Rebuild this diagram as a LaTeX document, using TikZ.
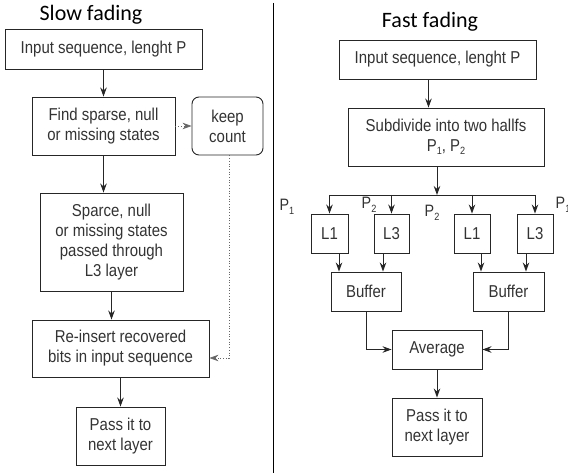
\documentclass[tikz,border=0pt]{standalone}
\usepackage{fontspec}
\setmainfont{Liberation Sans}[FakeStretch=0.87]
\newfontfamily\titlefont{Carlito}
\usetikzlibrary{arrows.meta,calc}
\newcommand{\psub}[1]{\raisebox{-3.5pt}{\fontsize{10.5}{10}\selectfont #1}}
\begin{document}
\begin{tikzpicture}[x=1pt,y=-1pt,
  box/.style={draw=black!85,line width=0.9pt,rectangle,inner sep=0pt,align=center,
    text=black!80,font=\fontsize{17.2}{20}\selectfont},
  arr/.style={draw=black!85,line width=0.9pt,-{Stealth[length=9pt,width=6.5pt]}},
  dotarr/.style={draw=black!60,line width=0.7pt,dotted,-{Stealth[length=9pt,width=6.5pt]}},
  ttl/.style={font=\titlefont\fontsize{22}{24}\selectfont,text=black},
  plab/.style={font=\fontsize{16.5}{18}\selectfont,text=black!80,inner sep=0pt}]
\useasboundingbox (0,0) rectangle (568,473);
% divider
\draw[line width=0.9pt] (273,3) coordinate (dtop) -- (273,473) coordinate (dbot);
% ---------- Slow fading ----------
\node[ttl] (t1) at (91,15) {Slow fading};
\node[box,minimum width=197,minimum height=40] (b1) at (103.5,49) {Input sequence, lenght P};
\node[box,minimum width=143,minimum height=58] (b2) at (103.5,126) {Find sparse, null\\or missing states};
\node[box,rounded corners=7pt,minimum width=71,minimum height=58] (kc) at (227.5,126) {keep\\count};
\node[box,minimum width=143,minimum height=98] (b3) at (111.5,242) {Sparce, null\\or missing states\\passed through\\L3 layer};
\node[box,minimum width=177,minimum height=57] (b4) at (120.5,348.5) {Re-insert recovered\\bits in input sequence};
\node[box,minimum width=89,minimum height=58] (b5) at (120.5,436) {Pass it to\\next layer};
\draw[arr] (b1.south) -- (b2.north);
\draw[arr] (b2.south) -- (b2.south |- b3.north);
\draw[arr] (b3.south) -- (b3.south |- b4.north);
\draw[arr] (b4.south) -- (b5.north);
\draw[dotarr] (b2.east) -- (kc.west);
\draw[dotarr] ([xshift=1.5pt]kc.south) |- ([yshift=-9.5pt]b4.east);
% ---------- Fast fading ----------
\node[ttl] (t2) at (430,22) {Fast fading};
\node[box,minimum width=197,minimum height=39] (r1) at (437.5,59.5) {Input sequence, lenght P};
\node[box,minimum width=196,minimum height=58] (r2) at (446,137) {Subdivide into two hallfs\\P\psub{1}, P\psub{2}};
\node[box,minimum width=37,minimum height=39] (l1a) at (329.5,233.5) {L1};
\node[box,minimum width=35,minimum height=39] (l3a) at (391.5,233.5) {L3};
\node[box,minimum width=36,minimum height=39] (l1b) at (472,233.5) {L1};
\node[box,minimum width=36,minimum height=39] (l3b) at (535,233.5) {L3};
\node[box,minimum width=70,minimum height=39] (buf1) at (366,291.5) {Buffer};
\node[box,minimum width=71,minimum height=39] (buf2) at (508.5,291.5) {Buffer};
\node[box,minimum width=90,minimum height=39] (avg) at (437,349.5) {Average};
\node[box,minimum width=90,minimum height=58] (fin) at (437,427) {Pass it to\\next layer};
\coordinate (bus) at (437,195);
\draw[arr] ([xshift=-9pt]r1.south) -- ([xshift=-9pt]r1.south |- r2.north);
\draw[arr] ([xshift=-9pt]r2.south) -- (bus);
\draw[draw=black!85,line width=0.9pt] (l1a.north |- bus) -- (l3b.north |- bus);
\draw[arr] (l1a.north |- bus) -- (l1a.north);
\draw[arr] (l3a.north |- bus) -- (l3a.north);
\draw[arr] (l1b.north |- bus) -- (l1b.north);
\draw[arr] (l3b.north |- bus) -- (l3b.north);
\draw[arr] ([xshift=9.5pt]l1a.south) -- ([xshift=9.5pt]l1a.south |- buf1.north);
\draw[arr] ([xshift=-8.5pt]l3a.south) -- ([xshift=-8.5pt]l3a.south |- buf1.north);
\draw[arr] ([xshift=9pt]l1b.south) -- ([xshift=9pt]l1b.south |- buf2.north);
\draw[arr] ([xshift=-9pt]l3b.south) -- ([xshift=-9pt]l3b.south |- buf2.north);
\draw[arr] (buf1.south) |- (avg.west);
\draw[arr] (buf2.south) |- (avg.east);
\draw[arr] (avg.south) -- (fin.north);
% P labels
\node[plab] (p1) at (287,207) {P\psub{1}};
\node[plab] (p2a) at (369,205) {P\psub{2}};
\node[plab] (p2b) at (432,213) {P\psub{2}};
\node[plab] (p1r) at (563,205) {P\psub{1}};
\end{tikzpicture}
\end{document}
